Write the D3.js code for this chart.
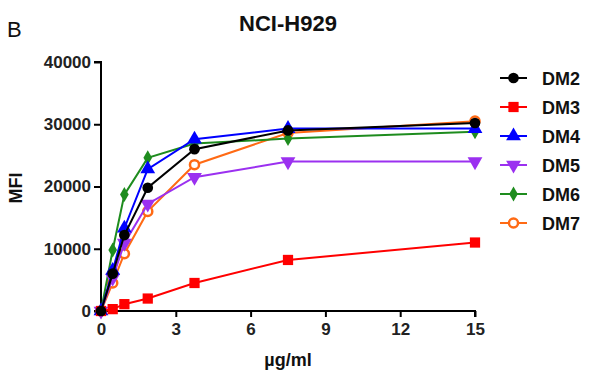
<!DOCTYPE html>
<html><head><meta charset="utf-8">
<script src="https://cdn.jsdelivr.net/npm/d3@7"></script>
<style>body{margin:0;background:#fff}svg{display:block}text{font-family:"Liberation Sans",Arial,sans-serif}</style>
</head><body>
<svg id="c" width="599" height="380"></svg>
<script>
const concentrations = [0, 0.469, 0.9375, 1.875, 3.75, 7.5, 15];
const seriesNames = ["DM2", "DM3", "DM4", "DM5", "DM6", "DM7"];
const DM2 = [0, 6000, 12200, 19800, 26000, 29000, 30200];
const DM3 = [0, 300, 1100, 2000, 4500, 8200, 11000];
const DM4 = [0, 6500, 13300, 22800, 27600, 29300, 29300];
const DM5 = [0, 5300, 10900, 17200, 21500, 24000, 24000];
const DM6 = [0, 9800, 18700, 24600, 26900, 27700, 28800];
const DM7 = [0, 4500, 9200, 16000, 23500, 28600, 30500];
const xTicks = [0, 3, 6, 9, 12, 15];
const yTicks = [0, 10000, 20000, 30000, 40000];

const colors = {DM2:"#000000", DM3:"#ff0000", DM4:"#0000ff", DM5:"#9b30f0", DM6:"#1e8c1e", DM7:"#ff6a14"};
const symbols = {DM2:d3.symbolCircle, DM3:d3.symbolSquare, DM4:d3.symbolTriangle, DM5:d3.symbolTriangle, DM6:d3.symbolDiamond, DM7:d3.symbolCircle};
const sizes = {DM2:90, DM3:105, DM4:95, DM5:95, DM6:65, DM7:65};
const data = {DM2, DM3, DM4, DM5, DM6, DM7};

const svg = d3.select("#c");
const x = d3.scaleLinear().domain([0, 15]).range([101, 475]);
const y = d3.scaleLinear().domain([0, 40000]).range([311, 62]);

// title
svg.append("text").attr("x", 288).attr("y", 31).attr("text-anchor", "middle")
  .attr("font-size", 22).attr("font-weight", "bold").attr("fill", "#111").text("NCI-H929");
svg.append("text").attr("x", 7).attr("y", 37).attr("font-size", 22).attr("fill", "#111").text("B");

// axes
const yAxis = svg.append("g").attr("transform", "translate(101,0)")
  .call(d3.axisLeft(y).tickValues(yTicks).tickSize(7).tickPadding(3).tickFormat(d3.format("d")));
const xAxis = svg.append("g").attr("transform", "translate(0,311)")
  .call(d3.axisBottom(x).tickValues(xTicks).tickSize(6).tickPadding(6).tickFormat(d3.format("d")));
[yAxis, xAxis].forEach(g => {
  g.select(".domain").attr("stroke-width", 2).attr("stroke", "#000");
  g.selectAll(".tick line").attr("stroke-width", 2).attr("stroke", "#000");
  g.selectAll(".tick text").attr("font-size", 17).attr("font-weight", "bold").attr("fill", "#222")
   .style("font-family", '"Liberation Sans",Arial,sans-serif');
});
yAxis.select(".domain").attr("d", "M-7,62H0V311H-7");
xAxis.select(".domain").attr("d", "M101,6V0H475V6");

// axis labels
svg.append("text").attr("transform", "translate(22,188) rotate(-90)").attr("text-anchor", "middle")
  .attr("font-size", 18).attr("font-weight", "bold").attr("fill", "#111").text("MFI");
svg.append("text").attr("x", 288).attr("y", 366).attr("text-anchor", "middle")
  .attr("font-size", 18).attr("font-weight", "bold").attr("fill", "#111").text("µg/ml");

const line = d3.line().x((d, i) => x(concentrations[i])).y(d => y(d));

function marker(g, name, cx, cy) {
  const rot = name === "DM5" ? 180 : 0;
  const p = g.append("path")
    .attr("d", d3.symbol().type(symbols[name]).size(sizes[name])())
    .attr("transform", `translate(${cx},${cy}) rotate(${rot})`);
  if (name === "DM7") p.attr("fill", "#fff").attr("stroke", colors[name]).attr("stroke-width", 2.5);
  else p.attr("fill", colors[name]);
}

const order = seriesNames.slice().reverse();
order.forEach(name => {
  const g = svg.append("g");
  g.append("path").datum(data[name]).attr("d", line).attr("fill", "none")
    .attr("stroke", colors[name]).attr("stroke-width", 2);
  data[name].forEach((v, i) => marker(g, name, x(concentrations[i]), y(v)));
});

// legend
seriesNames.forEach((name, i) => {
  const ly = 78 + i * 29;
  const g = svg.append("g");
  g.append("line").attr("x1", 500).attr("x2", 527).attr("y1", ly).attr("y2", ly)
    .attr("stroke", colors[name]).attr("stroke-width", 2);
  marker(g, name, 513.5, ly);
  g.append("text").attr("x", 542).attr("y", ly + 6.5).attr("font-size", 18)
    .attr("font-weight", "bold").attr("fill", "#111").text(name);
});
</script>
</body></html>
